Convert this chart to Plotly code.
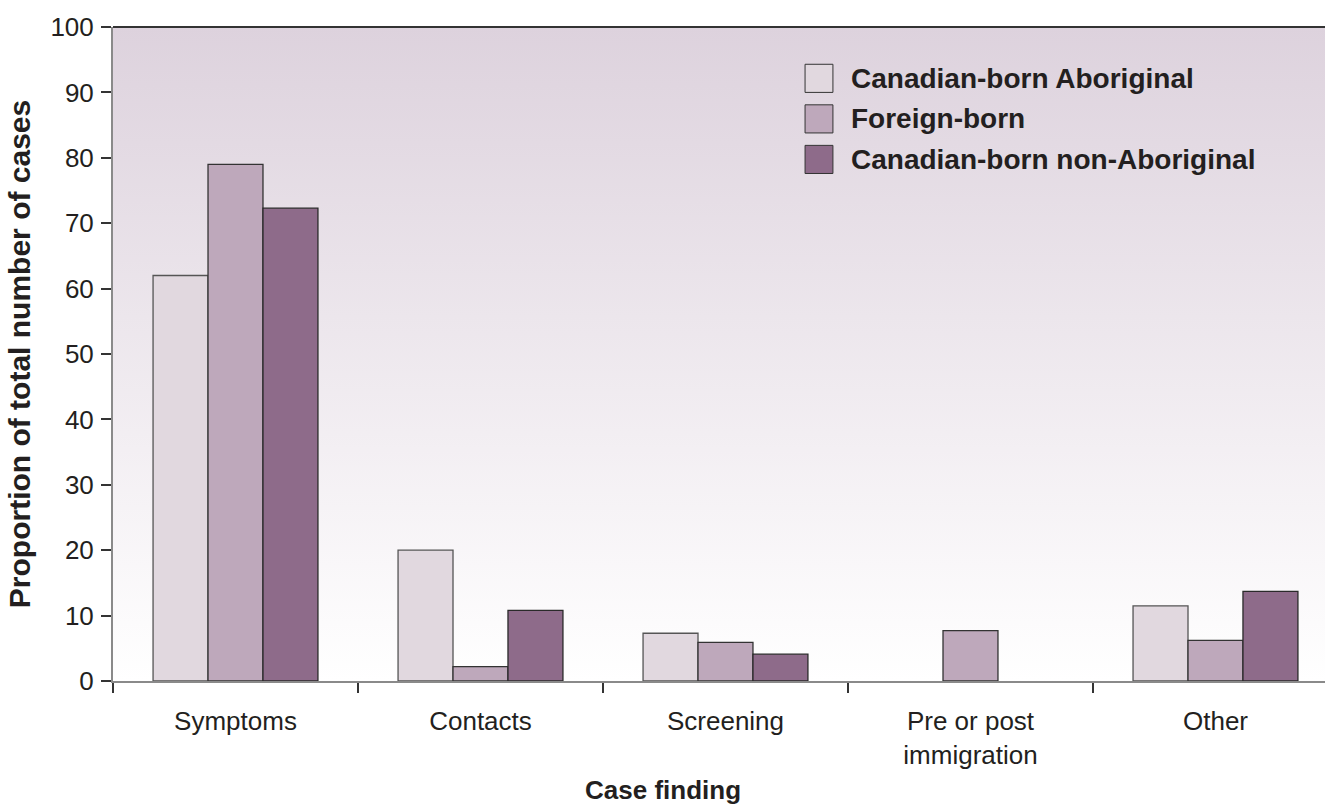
import base64
import plotly.graph_objects as go

# Case finding categories and the share of cases (%) in each population group
categories = ["Symptoms", "Contacts", "Screening", "Pre or post<br>immigration", "Other"]
series_names = ["Canadian-born Aboriginal", "Foreign-born", "Canadian-born non-Aboriginal"]
aboriginal = [62.0, 20.0, 7.3, None, 11.5]
foreign_born = [79.0, 2.2, 5.9, 7.7, 6.2]
non_aboriginal = [72.3, 10.8, 4.1, None, 13.7]
y_ticks = list(range(0, 101, 10))

colors = ["#e1d8df", "#bea8bb", "#8e6b8a"]
edge_colors = ["#555555", "#333333", "#2a2a2a"]
FONT = "Liberation Sans, Arial, sans-serif"
TEXT = "#231f20"

fig = go.Figure()
for name, vals, col, edge in zip(series_names, [aboriginal, foreign_born, non_aboriginal], colors, edge_colors):
    fig.add_trace(go.Bar(
        x=categories, y=vals, name=name,
        marker=dict(color=col, line=dict(color=edge, width=1.3)),
        showlegend=False,
    ))

# Vertical gradient behind the plotting area
svg = (
    '<svg xmlns="http://www.w3.org/2000/svg" width="100" height="100" preserveAspectRatio="none">'
    '<defs><linearGradient id="g" x1="0" y1="0" x2="0" y2="1">'
    '<stop offset="0" stop-color="#ddd2dd"/><stop offset="1" stop-color="#ffffff"/>'
    '</linearGradient></defs><rect width="100" height="100" fill="url(#g)"/></svg>'
)
bg_src = "data:image/svg+xml;base64," + base64.b64encode(svg.encode()).decode()

shapes = [
    # dark frame line along the top of the plotting area
    dict(type="line", xref="paper", yref="paper", x0=0, x1=1, y0=1, y1=1,
         line=dict(color="#333333", width=2)),
]
annotations = [
    # x-axis title, centred on the whole figure
    dict(xref="paper", yref="paper", x=0.4534, y=-0.1667, text="Case finding",
         showarrow=False, xanchor="center", yanchor="middle",
         font=dict(family=FONT, size=26, color=TEXT, weight="bold")),
]

# Legend drawn as large swatches with bold labels
sw_x0, sw_x1 = 0.571, 0.594
label_x = 0.607
sw_rows = [(0.900, 0.943), (0.838, 0.881), (0.776, 0.819)]
for name, col, (y0, y1) in zip(series_names, colors, sw_rows):
    shapes.append(dict(type="rect", xref="paper", yref="paper",
                       x0=sw_x0, x1=sw_x1, y0=y0, y1=y1,
                       fillcolor=col, line=dict(color="#333333", width=1)))
    annotations.append(dict(xref="paper", yref="paper", x=label_x, y=(y0 + y1) / 2,
                            text=name, showarrow=False, xanchor="left", yanchor="middle",
                            font=dict(family=FONT, size=28, color=TEXT, weight="bold")))

fig.update_layout(
    width=1325, height=809,
    margin=dict(l=113, r=0, t=27, b=128),
    paper_bgcolor="white",
    plot_bgcolor="rgba(0,0,0,0)",
    barmode="group", bargap=0.327, bargroupgap=0,
    font=dict(family=FONT, size=26, color=TEXT),
    images=[dict(source=bg_src, xref="paper", yref="paper", x=0, y=1,
                 sizex=1, sizey=1, sizing="stretch", layer="below",
                 xanchor="left", yanchor="top")],
    shapes=shapes,
    annotations=annotations,
    xaxis=dict(
        range=[-0.5, 4.447], showgrid=False, zeroline=False,
        showline=True, linecolor="#8a8a8a", linewidth=2,
        ticks="outside", tickson="boundaries", ticklen=10, tickwidth=1.5, tickcolor="#333333",
        ticklabelstandoff=16,
        tickfont=dict(family=FONT, size=26, color=TEXT),
    ),
    yaxis=dict(
        range=[0, 100], tickvals=y_ticks, showgrid=False, zeroline=False,
        showline=True, linecolor="#8a8a8a", linewidth=2,
        ticks="outside", ticklen=10, tickwidth=1.5, tickcolor="#333333",
        ticklabelstandoff=2,
        tickfont=dict(family=FONT, size=26, color=TEXT),
        title=dict(text="Proportion of total number of cases", standoff=11,
                   font=dict(family=FONT, size=30, color=TEXT, weight="bold")),
    ),
)

fig.write_html("out.html")
